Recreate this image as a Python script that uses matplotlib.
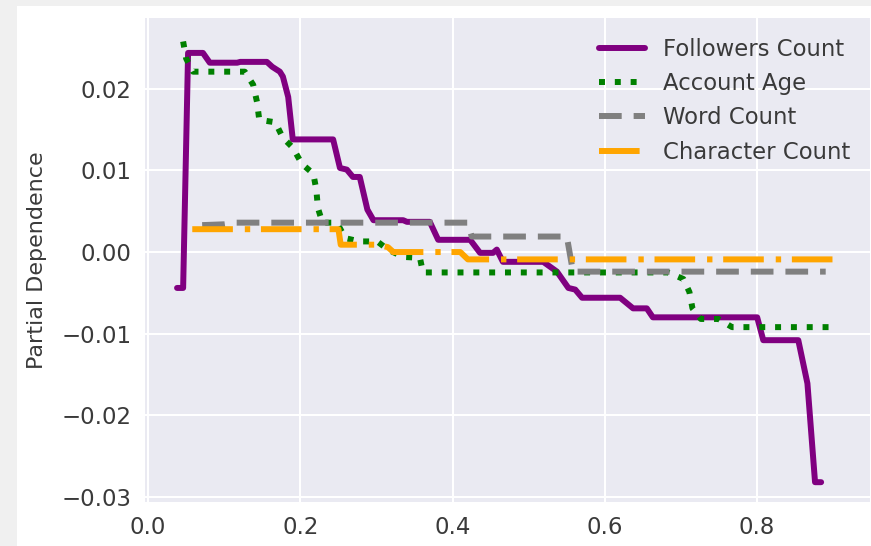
import matplotlib
matplotlib.use("Agg")
import matplotlib.pyplot as plt
from matplotlib.patches import Rectangle

# partial dependence curves (feature value -> partial dependence)
followers_x = [0.038, 0.046, 0.0525, 0.072, 0.081, 0.117, 0.121, 0.156, 0.163, 0.173,
               0.177, 0.184, 0.190, 0.243, 0.252, 0.261, 0.269, 0.278, 0.288, 0.296,
               0.335, 0.340, 0.370, 0.381, 0.423, 0.436, 0.453, 0.458, 0.466, 0.519,
               0.537, 0.552, 0.561, 0.570, 0.620, 0.637, 0.655, 0.663, 0.800, 0.808,
               0.854, 0.866, 0.876, 0.884]
followers_y = [-0.0044, -0.0044, 0.0244, 0.0244, 0.0232, 0.0232, 0.0233, 0.0233, 0.0227, 0.0221,
               0.0215, 0.0190, 0.0138, 0.0138, 0.0103, 0.0101, 0.0092, 0.0092, 0.0052, 0.0039,
               0.0039, 0.0037, 0.0037, 0.0015, 0.0015, -0.0001, -0.0001, 0.0003, -0.0012, -0.0012,
               -0.0024, -0.0044, -0.0046, -0.0056, -0.0056, -0.0069, -0.0069, -0.0080, -0.0080, -0.0108,
               -0.0108, -0.0161, -0.0282, -0.0282]

age_x = [0.046, 0.050, 0.059, 0.127, 0.138, 0.143, 0.146, 0.167, 0.177, 0.190,
         0.202, 0.217, 0.221, 0.223, 0.229, 0.248, 0.259, 0.278, 0.301, 0.315,
         0.335, 0.357, 0.361, 0.683, 0.703, 0.711, 0.715, 0.726, 0.749, 0.767, 0.900]
age_y = [0.0258, 0.0237, 0.0221, 0.0221, 0.0205, 0.0184, 0.0162, 0.0159, 0.0140, 0.0128,
         0.0108, 0.0096, 0.0076, 0.0054, 0.0036, 0.0036, 0.0017, 0.0013, 0.0013, 0.0003,
         -0.0006, -0.0007, -0.0025, -0.0025, -0.0033, -0.0049, -0.0069, -0.0082, -0.0082, -0.0092, -0.0092]

word_x = [0.071, 0.100, 0.115, 0.420, 0.425, 0.550, 0.558, 0.890]
word_y = [0.0033, 0.0034, 0.0036, 0.0036, 0.0019, 0.0019, -0.0024, -0.0024]

char_x = [0.058, 0.250, 0.253, 0.300, 0.315, 0.322, 0.410, 0.420, 0.906]
char_y = [0.0028, 0.0028, 0.0009, 0.0009, 0.0006, 0.0000, 0.0000, -0.0009, -0.0009]

plt.style.use("seaborn-v0_8-darkgrid")
plt.rcParams["font.family"] = "DejaVu Sans"
plt.rcParams["text.color"] = "#3a3a3a"
plt.rcParams["axes.labelcolor"] = "#3a3a3a"
plt.rcParams["xtick.color"] = "#3a3a3a"
plt.rcParams["ytick.color"] = "#3a3a3a"

fig = plt.figure(figsize=(8.71, 5.46), dpi=100, facecolor="white")
# light grey frame along the top and left edges
fig.patches.append(Rectangle((0, 540 / 546), 1, 6 / 546, transform=fig.transFigure,
                             facecolor="#f0f0f0", edgecolor="none", zorder=-10))
fig.patches.append(Rectangle((0, 0), 17 / 871, 1, transform=fig.transFigure,
                             facecolor="#f0f0f0", edgecolor="none", zorder=-10))
ax = fig.add_axes([144 / 871, 43 / 546, 1 - 144 / 871, 486 / 546])

lw = 4.3
ax.plot(followers_x, followers_y, color="purple", lw=lw, label="Followers Count")
ax.plot(age_x, age_y, color="green", lw=lw, linestyle=":", label="Account Age")
ax.plot(word_x, word_y, color="gray", lw=lw, linestyle="--", dashes=(3.8, 2.0), label="Word Count")
ax.plot(char_x, char_y, color="orange", lw=lw, linestyle="-.", dashes=(6.8, 2.0, 0.9, 1.8),
        label="Character Count")

ax.set_xlim(-0.0054, 0.9495)
ax.set_ylim(-0.03075, 0.0288)
ax.set_xticks([0.0, 0.2, 0.4, 0.6, 0.8])
ax.set_yticks([-0.03, -0.02, -0.01, 0.0, 0.01, 0.02])
ax.tick_params(labelsize=16.5, pad=9, length=0)
ax.grid(True, color="white", lw=1.5)
for s in ax.spines.values():
    s.set_color("white")
    s.set_linewidth(1.5)

ax.set_ylabel("Partial Dependence", fontsize=16, labelpad=10)
ax.legend(loc="upper right", frameon=False, fontsize=16.4, labelspacing=0.5)

plt.savefig("out.png", dpi=100, facecolor=fig.get_facecolor())
plt.close()
